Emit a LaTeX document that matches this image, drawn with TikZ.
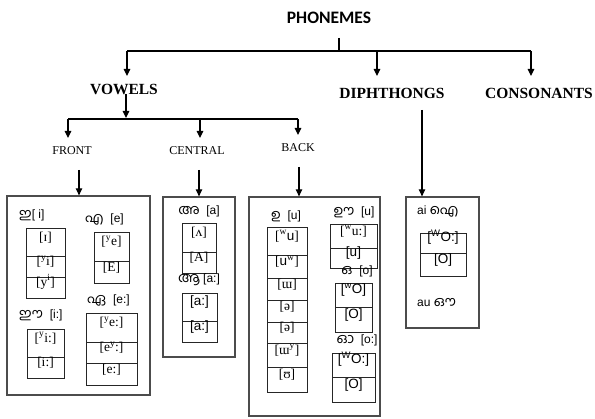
\documentclass[tikz,border=0pt]{standalone}
\usepackage{fontspec}
\setmainfont{Liberation Serif}
\setsansfont{Liberation Sans}
\newfontfamily\mlfont[Script=Malayalam,Scale=1.15]{Hind Kochi}
\newfontfamily\phfont{Carlito}
\usetikzlibrary{arrows.meta,fit}
\tikzset{
  line/.style={line width=1.1pt, draw=black},
  arr/.style={line width=1.1pt, draw=black, -{Triangle[length=7pt,width=6.5pt]}},
  obox/.style={draw=black!70, line width=1.3pt, inner sep=0pt},
  cell/.style={draw=black!85, line width=0.8pt, inner sep=0pt, font=\fontsize{13.5}{13.5}\selectfont},
  head/.style={font=\fontsize{15.5}{16}\selectfont\bfseries, inner sep=0pt},
  sub/.style={font=\fontsize{12}{12}\selectfont, inner sep=0pt},
  lab/.style={font=\sffamily\fontsize{12}{12}\selectfont, inner sep=0pt},
}
\newcommand\cellbox[6]{\node[cell, fit={(#2,#3) (#4,#5)}] (#1) {#6};}
\newcommand\ml[1]{{\mlfont #1}}
\newcommand\sps[1]{\textsuperscript{#1}}
\begin{document}
\begin{tikzpicture}[x=1pt,y=-1pt]
\useasboundingbox (0,0) rectangle (595,419);

% ---- top level
\node[font=\phfont\fontsize{17.5}{18}\selectfont\bfseries, inner sep=0pt] (ph) at (329,18) {PHONEMES};
\coordinate (t0) at (339,38);
\coordinate (j0) at (339,51);
\coordinate (jl) at (127,51);
\coordinate (jm) at (377,51);
\coordinate (jr) at (531,51);
\draw[line] (t0) -- (j0);
\draw[line] (jl) -- (jr);

\node[head] (vw) at (124,89) {VOWELS};
\node[head] (dp) at (392,93) {DIPHTHONGS};
\node[head] (cs) at (539,93) {CONSONANTS};
\coordinate (vwt) at (127,76);
\coordinate (dpt) at (377,76);
\coordinate (cst) at (531,76);
\draw[arr] (jl) -- (vwt);
\draw[arr] (jm) -- (dpt);
\draw[arr] (jr) -- (cst);

% ---- vowels level
\coordinate (v0) at (126,94);
\coordinate (v1) at (126,118);
\draw[arr] (v0) -- (v1);
\coordinate (k1) at (68,119);
\coordinate (k2) at (200,119);
\coordinate (k3) at (298,119);
\draw[line] (k1) -- (k3);
\node[sub] (fr) at (72,151) {FRONT};
\node[sub] (ce) at (197,151) {CENTRAL};
\node[sub] (bk) at (298,148) {BACK};
\coordinate (frt) at (68,138);
\coordinate (cet) at (200,138);
\coordinate (bkt) at (298,135);
\draw[arr] (k1) -- (frt);
\draw[arr] (k2) -- (cet);
\draw[arr] (k3) -- (bkt);

% ---- outer boxes
\node[obox, fit={(7,196) (150,395)}] (fbox) {};
\node[obox, fit={(163,197) (235,357)}] (cbox) {};
\node[obox, fit={(249,197) (380,416)}] (bbox) {};
\node[obox, fit={(406,197) (479,328)}] (dbox) {};

\coordinate (fa) at (79,170);
\coordinate (ca) at (199,170);
\coordinate (ba) at (299,167);
\coordinate (da) at (422,110);
\draw[arr] (fa) -- (fa |- fbox.north);
\draw[arr] (ca) -- (ca |- cbox.north);
\draw[arr] (ba) -- (ba |- bbox.north);
\draw[arr] (da) -- (da |- dbox.north);

% ---- FRONT
\node[lab, anchor=west] (l1) at (19,215) {\ml{ഇ}[ i]};
\cellbox{f1a}{26}{228}{65}{256}{[ɪ]}
\cellbox{f1b}{26}{256}{65}{277}{[\sps{y}i]}
\cellbox{f1c}{26}{277}{65}{298}{[y\sps{i}]}
\node[lab, anchor=west] (l2) at (85,220) {\ml{എ}\ \ [e]};
\cellbox{f2a}{94}{232}{129}{261}{[\sps{y}e]}
\cellbox{f2b}{94}{261}{129}{283}{[E]}
\node[lab, anchor=west] (l3) at (87,301) {\ml{ഏ}\ \ [e:]};
\cellbox{f3a}{86}{313}{137}{342}{[\sps{y}e:]}
\cellbox{f3b}{86}{342}{137}{363}{[e\sps{y}:]}
\cellbox{f3c}{86}{363}{137}{385}{[e:]}
\node[lab, anchor=west] (l4) at (19,315) {\ml{ഈ}\ \ [i:]};
\cellbox{f4a}{27}{329}{64}{357}{[\sps{y}i:]}
\cellbox{f4b}{27}{357}{64}{378}{[i:]}

% ---- CENTRAL
\node[lab] (l5) at (199,211) {\ml{അ}\ \ [a]};
\cellbox{c1a}{182}{223}{216}{252}{[ʌ]}
\cellbox{c1b}{182}{252}{216}{273}{[A]}
\node[lab] (l6) at (199,280) {\ml{ആ}\ [a:]};
\cellbox{c2a}{182}{293}{217}{321}{\sffamily [a:]}
\cellbox{c2b}{182}{321}{217}{342}{\sffamily [a:]}

% ---- BACK
\node[lab] (l7) at (286,216) {\ml{ഉ}\ \ [u]};
\cellbox{b1a}{267}{227}{307}{255}{[\sps{w}\textsf{u}]}
\cellbox{b1b}{267}{255}{307}{278}{[\textsf{u}\sps{w}]}
\cellbox{b1c}{267}{278}{307}{300}{[ɯ]}
\cellbox{b1d}{267}{300}{307}{322}{[ə]}
\cellbox{b1e}{267}{322}{307}{343}{[ə]}
\cellbox{b1f}{267}{343}{307}{367}{[ɯ\sps{y}]}
\cellbox{b1g}{267}{367}{307}{392}{[ʊ]}
\node[lab] (l8) at (354,212) {\ml{ഊ}\ \ [u]};
\cellbox{b2a}{330}{224}{377}{248}{[\sps{w}u:]}
\cellbox{b2b}{330}{248}{377}{268}{\sffamily [u]}
\node[lab] (l9) at (357,271) {\ml{ഒ}\ \ [o]};
\cellbox{b3a}{335}{283}{372}{307}{\sffamily [\sps{w}O]}
\cellbox{b3b}{335}{307}{372}{332}{\sffamily [O]}
\node[lab] (l10) at (357,340) {\ml{ഓ}\ \ [o:]};
\cellbox{b4a}{332}{353}{375}{377}{\sffamily [\sps{W}O:]}
\cellbox{b4b}{332}{377}{375}{402}{\sffamily [O]}

% ---- DIPHTHONGS
\node[lab, anchor=west] (l11) at (417,212) {ai \ml{ഐ}};
\cellbox{d1a}{420}{233}{466}{253}{\sffamily [\sps{W}O:]}
\cellbox{d1b}{420}{253}{466}{276}{\sffamily [O]}
\node[lab, anchor=west] (l12) at (417,303) {au \ml{ഔ}};
\end{tikzpicture}
\end{document}
